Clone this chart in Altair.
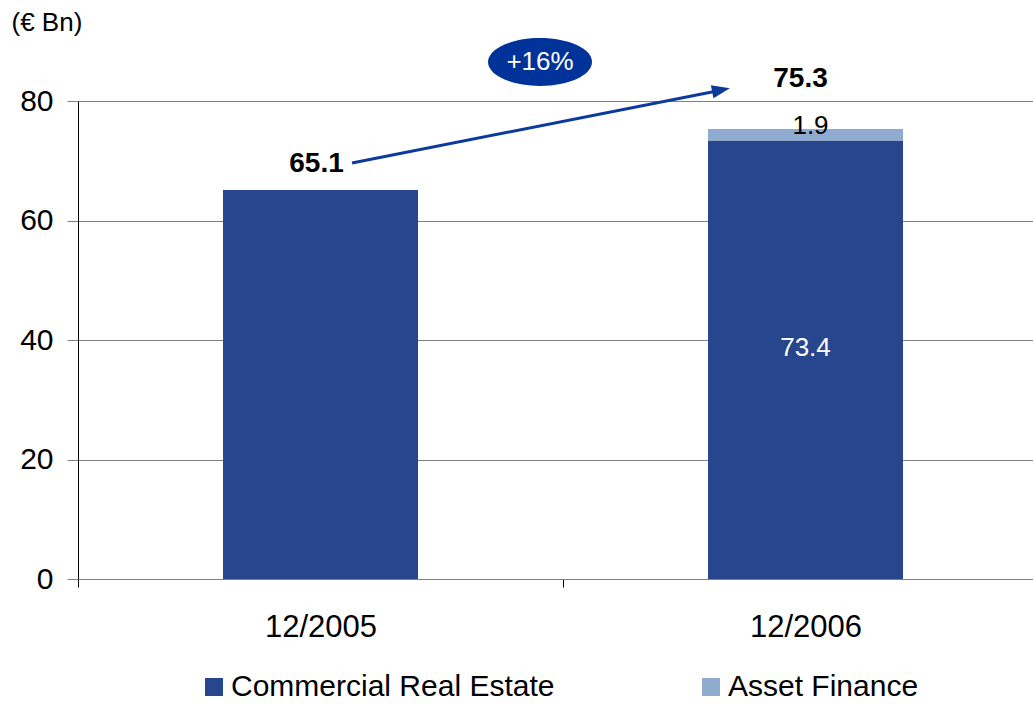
import altair as alt
import pandas as pd

periods = ["12/2005", "12/2006"]
series = ["Commercial Real Estate", "Asset Finance"]
cre = [65.1, 73.4]
af = [0.0, 1.9]
totals = [65.1, 75.3]
colors = ["#27468e", "#8facd0"]
growth = "+16%"
FONT = "Liberation Sans"

rows = []
for i, p in enumerate(periods):
    rows.append({"period": p, "series": series[0], "value": cre[i], "ord": 0, "total": totals[i]})
    rows.append({"period": p, "series": series[1], "value": af[i], "ord": 1, "total": totals[i]})
df = pd.DataFrame(rows)

x_enc = alt.X("period:N", sort=periods,
              scale=alt.Scale(range=[0, 970], paddingInner=0, paddingOuter=0),
              axis=alt.Axis(title=None, labelAngle=0, labelFontSize=31, labelFont=FONT,
                            labelColor="black", labelPadding=25, tickBand="extent",
                            tickSize=8, tickColor="black", domainColor="#808080",
                            grid=False))
y_scale = alt.Scale(domain=[0, 80], nice=False)

bars = alt.Chart(df).mark_bar(size=195).encode(
    x=x_enc,
    y=alt.Y("value:Q", stack="zero", scale=y_scale,
            axis=alt.Axis(values=[0, 20, 40, 60, 80], title="(€ Bn)", titleAngle=0,
                          titleAlign="left", titleBaseline="middle", titleX=-67, titleY=-79,
                          titleFontSize=26, titleFont=FONT, titleFontWeight="normal",
                          titleColor="black",
                          labelFontSize=30, labelFont=FONT, labelColor="black",
                          labelPadding=14, tickSize=11, tickColor="#808080",
                          domainColor="black", gridColor="#808080", gridOpacity=1)),
    color=alt.Color("series:N", sort=series,
                    scale=alt.Scale(domain=series, range=colors),
                    legend=alt.Legend(title=None, orient="none", direction="horizontal",
                                      legendX=121, legendY=571, labelFontSize=30,
                                      labelFont=FONT, labelColor="black", labelLimit=600,
                                      symbolType="square", symbolSize=324,
                                      symbolStrokeWidth=0, labelOffset=2,
                                      columnPadding=141)),
    order=alt.Order("ord:Q", sort="ascending"),
)

tot_df = pd.DataFrame({"period": periods, "total": totals})
tot1 = alt.Chart(tot_df).transform_filter(alt.datum.period == periods[0]).mark_text(
    fontSize=28, fontWeight="bold", font=FONT, baseline="bottom", dy=-12, dx=-4, color="black"
).encode(x=alt.X("period:N", sort=periods), y=alt.Y("total:Q"), text=alt.Text("total:Q", format=".1f"))
tot2 = alt.Chart(tot_df).transform_filter(alt.datum.period == periods[1]).mark_text(
    fontSize=28, fontWeight="bold", font=FONT, baseline="bottom", dy=-36, dx=-5, color="black"
).encode(x=alt.X("period:N", sort=periods), y=alt.Y("total:Q"), text=alt.Text("total:Q", format=".1f"))

af_df = pd.DataFrame({"period": periods, "af": af, "total": totals})
af_lbl = alt.Chart(af_df).transform_filter(alt.datum.af > 0).mark_text(
    fontSize=26, font=FONT, baseline="middle", dy=-3, dx=5, color="black"
).encode(x=alt.X("period:N", sort=periods), y=alt.Y("total:Q"), text=alt.Text("af:Q", format=".1f"))

cre_df = pd.DataFrame({"period": periods, "cre": cre, "mid": [c / 2 for c in cre]})
cre_lbl = alt.Chart(cre_df).transform_filter(alt.datum.period == periods[1]).mark_text(
    fontSize=26, font=FONT, baseline="middle", dy=-12, color="white"
).encode(x=alt.X("period:N", sort=periods), y=alt.Y("mid:Q"), text=alt.Text("cre:Q", format=".1f"))

one = alt.Data(values=[{"a": 1}])
arrow_color = "#0b3a9c"
arrow_line = alt.Chart(one).mark_rule(color=arrow_color, strokeWidth=3).encode(
    x=alt.value(274), y=alt.value(62), x2=alt.value(644), y2=alt.value(-11))
arrow_head = alt.Chart(one).mark_point(
    shape="M 1 0 L -1 -0.75 L -1 0.75 Z", filled=True, color=arrow_color, opacity=1,
    size=324, angle=348.8, strokeWidth=0
).encode(x=alt.value(643), y=alt.value(-11))
ellipse = alt.Chart(one).mark_point(
    shape="M -1 0 A 1 0.46 0 1 1 1 0 A 1 0.46 0 1 1 -1 0 Z", filled=True,
    color="#003399", opacity=1, size=10816, strokeWidth=0
).encode(x=alt.value(462), y=alt.value(-39))
ell_text = alt.Chart(one).mark_text(
    text=growth, fontSize=26, font=FONT, color="white", baseline="middle", align="center"
).encode(x=alt.value(462), y=alt.value(-39))

chart = alt.layer(bars, tot1, tot2, af_lbl, cre_lbl, arrow_line, arrow_head, ellipse, ell_text).properties(
    width=955, height=478,
    autosize=alt.AutoSizeParams(type="none"),
    padding={"left": 78, "top": 101, "right": 0, "bottom": 125},
).configure_view(stroke=None).configure(background="white")

chart.save("out.html", embed_options={"renderer": "svg", "actions": False})
